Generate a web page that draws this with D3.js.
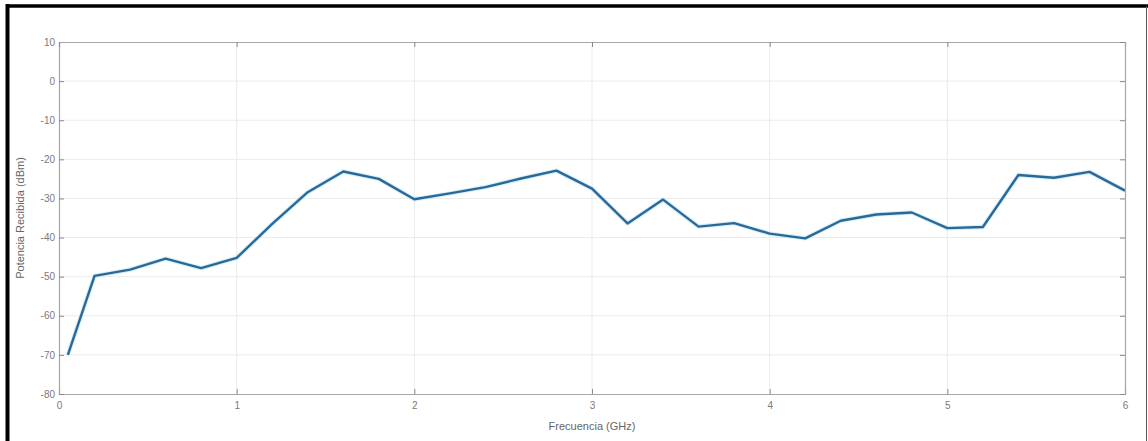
<!DOCTYPE html>
<html>
<head>
<meta charset="utf-8">
<script src="https://cdn.jsdelivr.net/npm/d3@7"></script>
<style>
  html, body { margin: 0; padding: 0; background: #fff; }
  svg { display: block; }
  text { font-family: "Liberation Sans", Arial, sans-serif; }
</style>
</head>
<body>
<svg id="chart" width="1148" height="441"></svg>
<script>
// Received power sweep versus frequency
const freqGHz = [0.05, 0.2, 0.4, 0.6, 0.8, 1.0, 1.2, 1.4, 1.6, 1.8, 2.0, 2.2, 2.4, 2.6, 2.8,
                 3.0, 3.2, 3.4, 3.6, 3.8, 4.0, 4.2, 4.4, 4.6, 4.8, 5.0, 5.2, 5.4, 5.6, 5.8, 6.0];
const powerDbm = [-70.0, -49.8, -48.2, -45.4, -47.8, -45.2, -36.5, -28.4, -23.1, -25.0, -30.2, -28.7, -27.1, -24.9, -22.9,
                  -27.5, -36.4, -30.3, -37.2, -36.3, -39.0, -40.2, -35.7, -34.1, -33.6, -37.6, -37.3, -24.0, -24.7, -23.2, -28.0];
const xTicks = [0, 1, 2, 3, 4, 5, 6];
const yTicks = [10, 0, -10, -20, -30, -40, -50, -60, -70, -80];
const xTitle = "Frecuencia (GHz)";
const yTitle = "Potencia Recibida (dBm)";

const svg = d3.select("#chart");
const W = 1148, H = 441;
const plot = { left: 59, right: 1125, top: 42, bottom: 394 };

// outer frame
svg.append("rect").attr("x", 0).attr("y", 0).attr("width", W).attr("height", H).attr("fill", "#fff");
svg.append("line").attr("x1", 7.5).attr("x2", 7.5).attr("y1", 4).attr("y2", H).attr("stroke", "#000").attr("stroke-width", 4);
svg.append("line").attr("x1", 6).attr("x2", W).attr("y1", 6).attr("y2", 6).attr("stroke", "#000").attr("stroke-width", 3.5);
svg.append("line").attr("x1", 1146.5).attr("x2", 1146.5).attr("y1", 6).attr("y2", H).attr("stroke", "#555").attr("stroke-width", 1);

const x = d3.scaleLinear().domain([0, 6]).range([plot.left, plot.right]);
const y = d3.scaleLinear().domain([-80, 10]).range([plot.bottom, plot.top]);

// grid
const grid = svg.append("g");
grid.selectAll(".gx").data(xTicks.slice(1, -1)).enter().append("line")
  .attr("x1", d => x(d)).attr("x2", d => x(d))
  .attr("y1", plot.top).attr("y2", plot.bottom)
  .attr("stroke", "#ebebeb").attr("stroke-width", 1);
grid.selectAll(".gy").data(yTicks.slice(1, -1)).enter().append("line")
  .attr("x1", plot.left).attr("x2", plot.right)
  .attr("y1", d => y(d)).attr("y2", d => y(d))
  .attr("stroke", "#ebebeb").attr("stroke-width", 1);

// data line
const line = d3.line().x((d, i) => x(freqGHz[i])).y(d => y(d));
svg.append("path").datum(powerDbm)
  .attr("fill", "none").attr("stroke", "#a8dcf0").attr("stroke-width", 4.5)
  .attr("stroke-opacity", 0.45).attr("stroke-linejoin", "round").attr("d", line);
svg.append("path").datum(powerDbm)
  .attr("fill", "none").attr("stroke", "#29699a").attr("stroke-width", 2.4)
  .attr("stroke-linejoin", "round").attr("d", line);

// axes (inward ticks, box); plain hyphen for negative labels
const fmt = d => String(d);
const axisColor = "#a6a6a6";
const tickLen = 5;
const xAxis = svg.append("g").attr("transform", `translate(0,${plot.bottom})`)
  .call(d3.axisBottom(x).tickValues(xTicks).tickSize(-tickLen).tickPadding(8).tickFormat(fmt));
const yAxis = svg.append("g").attr("transform", `translate(${plot.left},0)`)
  .call(d3.axisLeft(y).tickValues(yTicks).tickSize(-tickLen).tickPadding(4).tickFormat(fmt));
const xTop = svg.append("g").attr("transform", `translate(0,${plot.top})`)
  .call(d3.axisTop(x).tickValues(xTicks).tickSize(-tickLen).tickFormat(""));
const yRight = svg.append("g").attr("transform", `translate(${plot.right},0)`)
  .call(d3.axisRight(y).tickValues(yTicks).tickSize(-tickLen).tickFormat(""));

[xAxis, yAxis, xTop, yRight].forEach(g => {
  g.select(".domain").attr("stroke", axisColor).attr("stroke-width", 1.2);
  g.selectAll(".tick line").attr("stroke", "#8a8a8a");
  g.selectAll(".tick text").attr("fill", "#7a7a7a").attr("font-size", 10)
    .attr("font-family", "'Liberation Sans', Arial, sans-serif");
});

// axis titles
svg.append("text").attr("x", (plot.left + plot.right) / 2).attr("y", 430)
  .attr("text-anchor", "middle").attr("fill", "#666").attr("font-size", 11).text(xTitle);
svg.append("text").attr("transform", `translate(24,${(plot.top + plot.bottom) / 2}) rotate(-90)`)
  .attr("text-anchor", "middle").attr("fill", "#666").attr("font-size", 11).text(yTitle);
</script>
</body>
</html>
